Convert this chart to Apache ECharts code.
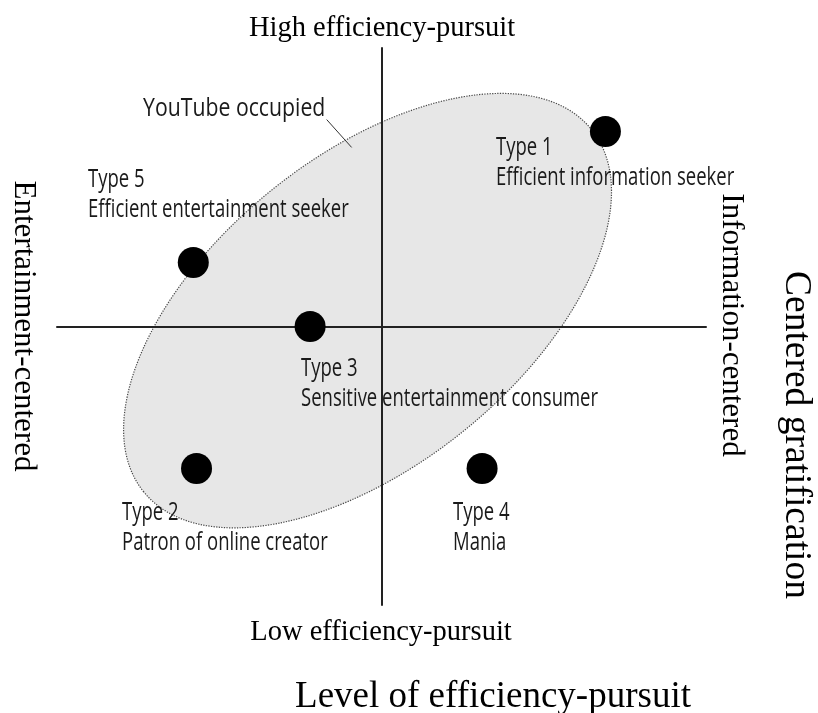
<!DOCTYPE html>
<html>
<head>
<meta charset="utf-8">
<script src="https://cdn.jsdelivr.net/npm/echarts@6/dist/echarts.min.js"></script>
<style>
  html, body { margin: 0; padding: 0; background: #fff; }
  #chart { width: 818px; height: 713px; }
</style>
</head>
<body>
<div id="chart"></div>
<script>
// user types, x = entertainment(-) .. information(+), y = low(-) .. high(+) efficiency
const typeNames = ['Type 1', 'Type 2', 'Type 3', 'Type 4', 'Type 5'];
const typeDescriptions = [
  'Efficient information seeker',
  'Patron of online creator',
  'Sensitive entertainment consumer',
  'Mania',
  'Efficient entertainment seeker'
];
const gratification = [0.69, -0.57, -0.22, 0.31, -0.58];
const efficiency = [0.70, -0.51, 0.0, -0.51, 0.23];

// region occupied by YouTube (centre in data units)
const occupiedCenter = [-0.043, 0.057];
const occupiedLabel = 'YouTube occupied';

const chart = echarts.init(document.getElementById('chart'));

const sans = '"Open Sans", "DejaVu Sans Condensed", sans-serif';
const serif = '"Liberation Serif", "DejaVu Serif", serif';

// label placement (pixels, left edge / middle of first line) for each type
const labelPos = [[496, 148], [122, 513], [301, 369], [453, 513], [88, 180]];
const squeeze = 0.74; // condensed look of the original labels

const texts = [];
typeNames.forEach((name, i) => {
  texts.push({
    type: 'text', x: labelPos[i][0], y: labelPos[i][1], z: 20, scaleX: squeeze,
    style: { text: name, font: '25px ' + sans, fill: '#1a1a1a', verticalAlign: 'middle' }
  });
  texts.push({
    type: 'text', x: labelPos[i][0], y: labelPos[i][1] + 30, z: 20, scaleX: squeeze,
    style: { text: typeDescriptions[i], font: '25px ' + sans, fill: '#1a1a1a', verticalAlign: 'middle' }
  });
});
texts.push({
  type: 'text', x: 143, y: 109, z: 20, scaleX: 0.85,
  style: { text: occupiedLabel, font: '25px ' + sans, fill: '#1a1a1a', verticalAlign: 'middle' }
});

const titles = [
  { type: 'text', x: 382, y: 29, style: { text: 'High efficiency-pursuit', font: '28.5px ' + serif, fill: '#000', align: 'center', verticalAlign: 'middle' } },
  { type: 'text', x: 381, y: 633, style: { text: 'Low efficiency-pursuit', font: '28.5px ' + serif, fill: '#000', align: 'center', verticalAlign: 'middle' } },
  { type: 'text', x: 493, y: 697, style: { text: 'Level of efficiency-pursuit', font: '37px ' + serif, fill: '#000', align: 'center', verticalAlign: 'middle' } },
  { type: 'text', x: 23, y: 326, rotation: -Math.PI / 2, style: { text: 'Entertainment-centered', font: '31px ' + serif, fill: '#000', align: 'center', verticalAlign: 'middle' } },
  { type: 'text', x: 731, y: 325, rotation: -Math.PI / 2, style: { text: 'Information-centered', font: '31px ' + serif, fill: '#000', align: 'center', verticalAlign: 'middle' } },
  { type: 'text', x: 796, y: 435, rotation: -Math.PI / 2, style: { text: 'Centered gratification', font: '37.5px ' + serif, fill: '#000', align: 'center', verticalAlign: 'middle' } }
];

const axisCommon = {
  type: 'value', min: -1, max: 1, z: 5,
  axisLine: { onZero: true, lineStyle: { color: '#222', width: 2 } },
  axisTick: { show: false },
  axisLabel: { show: false },
  splitLine: { show: false }
};

const option = {
  backgroundColor: '#fff',
  animation: false,
  grid: { left: 57, right: 112, top: 48, bottom: 108 },
  xAxis: axisCommon,
  yAxis: axisCommon,
  graphic: titles.concat(texts),
  series: [
    {
      type: 'custom',
      z: 1,
      data: [occupiedCenter],
      renderItem: (params, api) => {
        const c = api.coord([api.value(0), api.value(1)]);
        return {
          type: 'ellipse',
          x: c[0], y: c[1],
          rotation: 39 * Math.PI / 180,
          shape: { cx: 0, cy: 0, rx: 288, ry: 154 },
          style: { fill: '#e7e7e7', stroke: '#4a4a4a', lineWidth: 1.2, lineDash: [1.3, 1.3] }
        };
      }
    },
    {
      // leader from the "YouTube occupied" note to the region edge
      type: 'line',
      z: 6,
      data: [[-0.169, 0.743], [-0.092, 0.643]],
      symbol: 'none',
      lineStyle: { color: '#333', width: 1 }
    },
    {
      type: 'scatter',
      z: 10,
      symbolSize: 31,
      itemStyle: { color: '#000', opacity: 1 },
      data: gratification.map((v, i) => [v, efficiency[i]])
    }
  ]
};

chart.setOption(option);
</script>
</body>
</html>
